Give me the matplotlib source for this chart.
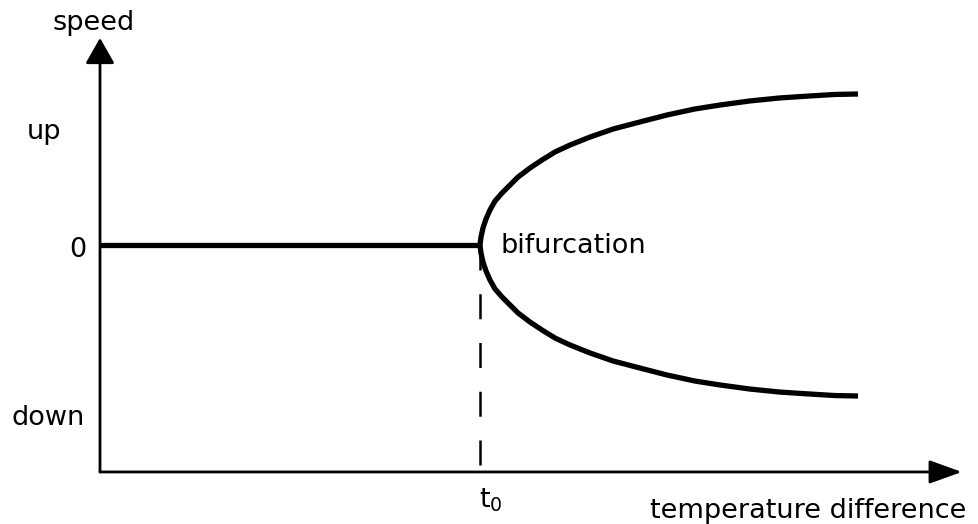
import matplotlib
matplotlib.use("Agg")
import matplotlib.pyplot as plt
import matplotlib.transforms as mtransforms

# ---- data (conceptual units: temperature difference t, speed s) ----
t_flat = [0.0, 1.0]
s_flat = [0.0, 0.0]
t0 = 1.0
t_branch = [1.0000, 1.0026, 1.0079, 1.0158, 1.0263, 1.0395, 1.0579, 1.0789,
            1.1000, 1.1316, 1.1632, 1.1974, 1.2368, 1.2895, 1.3500, 1.4211,
            1.4921, 1.5658, 1.6316, 1.7105, 1.7895, 1.8684, 1.9342, 1.9947]
s_upper = [0.000, 0.053, 0.113, 0.172, 0.232, 0.291, 0.344, 0.397,
           0.450, 0.510, 0.563, 0.616, 0.662, 0.715, 0.768, 0.815,
           0.861, 0.901, 0.927, 0.954, 0.974, 0.987, 0.997, 1.000]
s_lower = [-0.000, -0.053, -0.113, -0.172, -0.232, -0.291, -0.344, -0.397,
           -0.450, -0.510, -0.563, -0.616, -0.662, -0.715, -0.768, -0.815,
           -0.861, -0.901, -0.927, -0.954, -0.974, -0.987, -0.997, -1.000]
t_axis_max = 2.268
s_axis_min = -1.503
s_axis_max = 1.371

y_labels = ["up", "0", "down"]

W, H = 979, 524
fig = plt.figure(figsize=(W / 100, H / 100), dpi=100)
ax = fig.add_axes([0, 0, 1, 1])
ax.set_xlim((0 - 100) / 380, (W - 100) / 380)
ax.set_ylim((245 - H) / 151, 245 / 151)
ax.axis("off")

# pixel transform for text placement
px = mtransforms.Affine2D().scale(1 / W, -1 / H).translate(0, 1) + fig.transFigure

# axes arrows
ax.annotate("", xy=(0, s_axis_max), xytext=(0, s_axis_min),
            arrowprops=dict(arrowstyle="-|>,head_length=0.79,head_width=0.45",
                            mutation_scale=20, lw=2.0, color="k",
                            shrinkA=0, shrinkB=0))
ax.annotate("", xy=(t_axis_max, s_axis_min), xytext=(0, s_axis_min),
            arrowprops=dict(arrowstyle="-|>,head_length=1.0,head_width=0.36",
                            mutation_scale=20, lw=2.0, color="k",
                            shrinkA=0, shrinkB=0))

# flat branch
ax.plot(t_flat, s_flat, color="k", lw=3.8, solid_capstyle="butt")
# bifurcating branches as one continuous line
tb = list(reversed(t_branch)) + t_branch[1:]
sb = list(reversed(s_lower)) + s_upper[1:]
ax.plot(tb, sb, color="k", lw=3.8, solid_capstyle="butt", solid_joinstyle="round")

# dashed line at t0
ax.plot([t0, t0], [0, s_axis_min], color="k", lw=1.8, ls=(0, (10, 9.5)))

fs = 19.5
fam = "DejaVu Sans"
fig.text(94, 30, "speed", transform=px, ha="center", va="baseline", fontsize=fs, family=fam)
fig.text(44, 139, y_labels[0], transform=px, ha="center", va="baseline", fontsize=fs, family=fam)
fig.text(78, 257, y_labels[1], transform=px, ha="center", va="baseline", fontsize=fs, family=fam)
fig.text(48, 425, y_labels[2], transform=px, ha="center", va="baseline", fontsize=fs, family=fam)
fig.text(501, 253, "bifurcation", transform=px, ha="left", va="baseline", fontsize=fs, family=fam)
fig.text(479, 508, r"$\mathregular{t_0}$", transform=px, ha="left", va="baseline", fontsize=fs, family=fam)
fig.text(966, 518, "temperature difference", transform=px, ha="right", va="baseline", fontsize=fs, family=fam)

fig.savefig("out.png", dpi=100, facecolor="white")
